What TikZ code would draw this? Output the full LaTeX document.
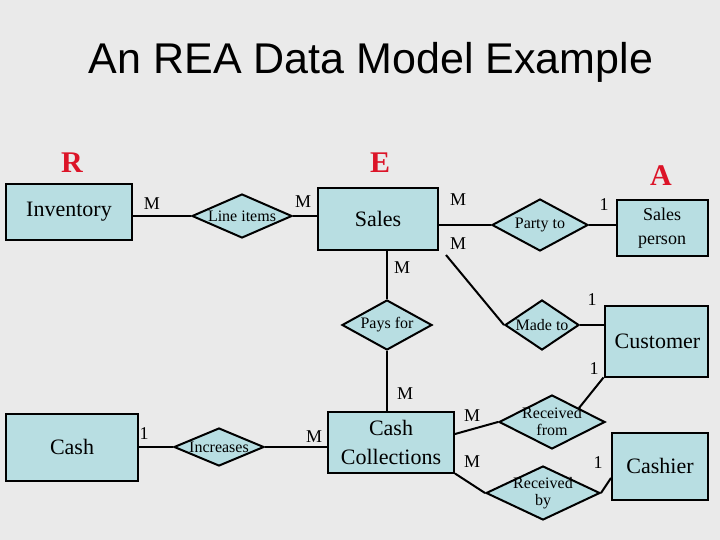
\documentclass[tikz,border=0pt]{standalone}
\usepackage{fontspec}
\setmainfont{Liberation Serif}
\newfontfamily\titlefont{Liberation Sans}
\usetikzlibrary{shapes.geometric}
\definecolor{bgray}{RGB}{234,234,234}
\definecolor{boxblue}{RGB}{184,222,226}
\definecolor{reared}{RGB}{220,20,40}
\begin{document}
\begin{tikzpicture}[
    x=1pt, y=-1pt,
    entity/.style={rectangle, draw, line width=2pt, fill=boxblue, inner sep=0pt, align=center, font=\fontsize{22}{24}\selectfont},
    rel/.style 2 args={diamond, draw, line width=2pt, fill=boxblue, inner sep=0pt, minimum width=#1pt, minimum height=#2pt},
    rtext/.style={font=\fontsize{16}{17}\selectfont, align=center},
    card/.style={font=\fontsize{18}{19}\selectfont},
    head/.style={text=reared, font=\bfseries\fontsize{30}{32}\selectfont},
    link/.style={line width=2pt}
]
    \fill[bgray] (0,0) rectangle (720,540);
    \useasboundingbox (0,0) rectangle (720,540);

    \node[font=\titlefont\fontsize{43}{46}\selectfont] (title) at (371,62) {An REA Data Model Example};
    \node[head] (hr) at (72,163) {R};
    \node[head] (he) at (380,163) {E};
    \node[head] (ha) at (661,176) {A};

    % entities
    \node[entity, minimum width=126pt, minimum height=55pt] (inv) at (69,212) {Inventory};
    \node[entity, minimum width=120pt, minimum height=62pt] (sales) at (378,219) {Sales};
    \node[entity, minimum width=91pt, minimum height=56pt, font=\fontsize{18}{24}\selectfont] (sp) at (662,228) {Sales\\person};
    \node[entity, minimum width=103pt, minimum height=71pt] (cust) at (656,341) {\hspace*{3pt}Customer};
    \node[entity, minimum width=132pt, minimum height=67pt] (cash) at (72,447) {Cash};
    \node[entity, minimum width=126pt, minimum height=61pt, font=\fontsize{22}{29}\selectfont] (cc) at (391,442) {Cash\\Collections};
    \node[entity, minimum width=96pt, minimum height=67pt] (cashier) at (660,466) {Cashier};

    % relationships
    \node[rel={100}{44}, label={[rtext]center:Line items}] (li) at (242,216) {};
    \node[rel={96}{52}, label={[rtext]center:Party to}] (party) at (540,225) {};
    \node[rel={90}{50}, label={[rtext]center:Pays for}] (pays) at (387,325) {};
    \node[rel={74}{50}, label={[rtext]center:Made to}] (made) at (542,325) {};
    \node[rel={90}{38}, label={[rtext]center:Increases}] (inc) at (219,447) {};
    \node[rel={106}{54}, label={[rtext, text width=70pt]center:Received\\from}] (rfrom) at (552,422) {};
    \node[rel={114}{54}, label={[rtext, text width=70pt]center:Received\\by}] (rby) at (543,493) {};

    % connectors
    \draw[link] (inv.east |- li.west) -- (li.west);
    \draw[link] (li.east) -- (sales.west |- li.east);
    \draw[link] (sales.east |- party.west) -- (party.west);
    \draw[link] (party.east) -- (sp.west |- party.east);
    \draw[link] (sales.south -| pays.north) -- (pays.north);
    \draw[link] (pays.south) -- (cc.north -| pays.south);
    \draw[link] (sales.south east) ++(7,4) coordinate (sc) -- (made.west);
    \draw[link] (made.east) -- (cust.west |- made.east);
    \draw[link] (cash.east |- inc.west) -- (inc.west);
    \draw[link] (inc.east) -- (cc.west |- inc.east);
    \draw[link] (cc.east) ++(0,-8) coordinate (c1) -- (rfrom.west);
    \draw[link] (rfrom.north east) -- (cust.south west);
    \draw[link] (cc.south east) -- (rby.west);
    \draw[link] (rby.east) -- ([yshift=-12pt]cashier.west);

    % cardinalities
    \node[card] (m1) at (152,204) {M};
    \node[card] (m2) at (303,202) {M};
    \node[card] (m3) at (458,200) {M};
    \node[card] (m4) at (458,244) {M};
    \node[card] (o1) at (604,205) {1};
    \node[card] (m5) at (402,268) {M};
    \node[card] (o2) at (592,300) {1};
    \node[card] (o3) at (594,369) {1};
    \node[card] (m6) at (405,394) {M};
    \node[card] (o4) at (144,434) {1};
    \node[card] (m7) at (314,437) {M};
    \node[card] (m8) at (472,416) {M};
    \node[card] (m9) at (472,462) {M};
    \node[card] (o5) at (598,463) {1};
\end{tikzpicture}
\end{document}
